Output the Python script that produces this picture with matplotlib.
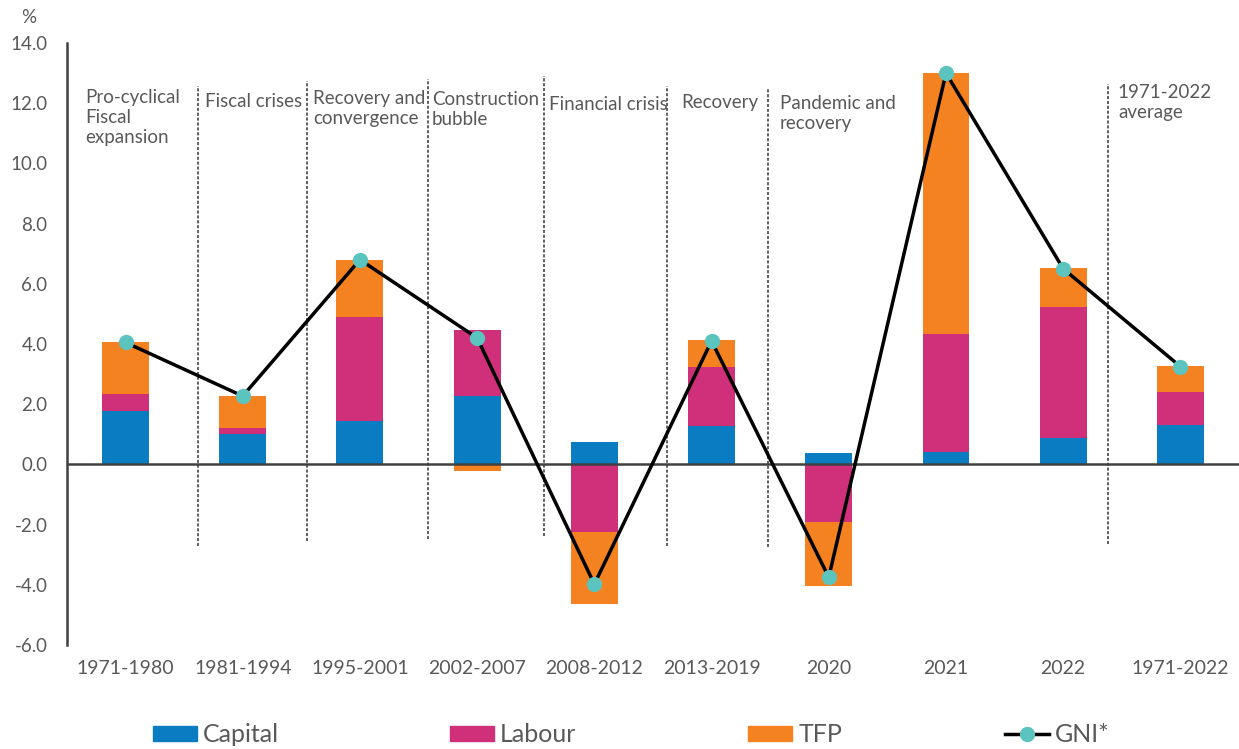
import numpy as np
import matplotlib.pyplot as plt
from matplotlib.lines import Line2D
from matplotlib.patches import Patch

plt.rcParams['font.family'] = ['Lato', 'DejaVu Sans']

periods = ["1971-1980", "1981-1994", "1995-2001", "2002-2007", "2008-2012",
           "2013-2019", "2020", "2021", "2022", "1971-2022"]
capital = [1.78, 1.00, 1.45, 2.28, 0.75, 1.27, 0.37, 0.42, 0.88, 1.32]
labour = [0.57, 0.22, 3.43, 2.20, -2.25, 1.98, -1.90, 3.90, 4.34, 1.08]
tfp = [1.73, 1.05, 1.90, -0.22, -2.40, 0.87, -2.15, 8.68, 1.30, 0.88]
gni = [4.05, 2.27, 6.80, 4.20, -3.98, 4.10, -3.75, 13.00, 6.50, 3.25]

phase_labels = ["Pro-cyclical\nFiscal\nexpansion", "Fiscal crises",
                "Recovery and\nconvergence", "Construction\nbubble",
                "Financial crisis", "Recovery", "Pandemic and\nrecovery",
                "1971-2022\naverage"]
phase_x = [-0.346, 0.678, 1.599, 2.614, 3.613, 4.739, 5.584, 8.467]
# baseline of the first line of each label
phase_y = [12.08, 11.88, 12.01, 11.98, 11.78, 11.84, 11.84, 12.21]
sep_x = [0.618, 1.548, 2.580, 3.570, 4.619, 5.481, 8.382]
sep_top = [12.57, 12.74, 12.81, 12.9, 12.57, 12.5, 12.64]
sep_bot = [-2.71, -2.54, -2.48, -2.38, -2.71, -2.74, -2.64]

c_cap = "#0A7DC2"
c_lab = "#D0307A"
c_tfp = "#F58220"
c_gni = "#5BC4BF"
grey = "#595959"

fig = plt.figure(figsize=(12.39, 7.49), dpi=100)
ax = fig.add_axes([0.054, 0.1389, 0.946, 0.8037])

x = np.arange(len(periods))
w = 0.4
pos = np.zeros(len(x))
neg = np.zeros(len(x))
for vals, col in [(capital, c_cap), (labour, c_lab), (tfp, c_tfp)]:
    vals = np.array(vals)
    bottom = np.where(vals >= 0, pos, neg)
    ax.bar(x, vals, w, bottom=bottom, color=col, zorder=2)
    pos = pos + np.where(vals >= 0, vals, 0)
    neg = neg + np.where(vals < 0, vals, 0)

ax.plot(x, gni, color="black", lw=2.5, marker="o", ms=10,
        mfc=c_gni, mec=c_gni, zorder=4)

# period separators
for sx, t, b in zip(sep_x, sep_top, sep_bot):
    ax.plot([sx, sx], [b, t], color="#333333", lw=1.1, ls=(0, (2, 1.2)), zorder=1)

# baseline va uses the last line, so shift down by the extra lines (~21 px each)
line_h = 21 / 30.1
for px, py, lab in zip(phase_x, phase_y, phase_labels):
    n_extra = lab.count("\n")
    ax.text(px, py - n_extra * line_h, lab, fontsize=13.5, color=grey,
            ha="left", va="baseline", linespacing=1.22)

ax.axhline(0, color="#404040", lw=1.8, zorder=3)

ax.set_xlim(-0.5, 9.5)
ax.set_ylim(-6, 14)
ax.set_yticks(np.arange(-6, 15, 2))
ax.set_yticklabels([f"{v:.1f}" for v in np.arange(-6, 15, 2)])
ax.set_xticks(x)
ax.set_xticklabels(periods)
ax.tick_params(axis="y", length=0, pad=14, labelsize=13.5, labelcolor=grey)
ax.tick_params(axis="x", length=0, pad=11, labelsize=14, labelcolor=grey)
for s in ["top", "right", "bottom"]:
    ax.spines[s].set_visible(False)
ax.spines["left"].set_color("#404040")
ax.spines["left"].set_linewidth(1.8)

fig.text(0.017, 0.976, "%", fontsize=13.5, color=grey, ha="left", va="center")

handles = [Patch(color=c_cap, label="Capital"), Patch(color=c_lab, label="Labour"),
           Patch(color=c_tfp, label="TFP"),
           Line2D([], [], color="black", lw=2.5, marker="o", ms=10, mfc=c_gni,
                  mec=c_gni, label="GNI*")]
leg_x = [153, 450, 748, 1005]
for h, lx in zip(handles, leg_x):
    leg = fig.legend(handles=[h], loc="center left",
                     bbox_to_anchor=(lx / 1239, 0.019), frameon=False,
                     fontsize=18, labelcolor=grey, handlelength=1.76,
                     handleheight=0.6, handletextpad=0.25, borderpad=0,
                     borderaxespad=0)

fig.savefig("out.png", dpi=100)
